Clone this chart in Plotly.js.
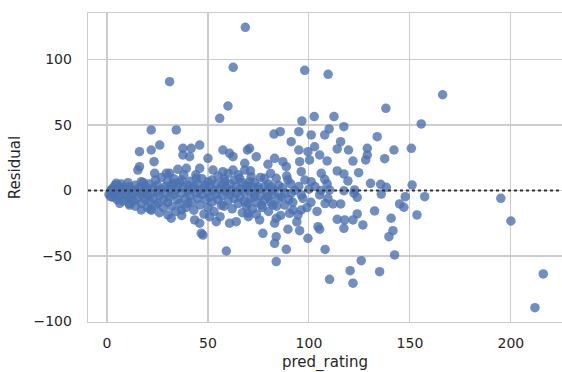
<!DOCTYPE html>
<html>
<head>
<meta charset="utf-8">
<script src="https://cdn.plot.ly/plotly-3.0.1.min.js"></script>
<style>html,body{margin:0;padding:0;background:#fff;}#chart{width:562px;height:372px;}</style>
</head>
<body>
<div id="chart"></div>
<script>
// pred_rating (x) and Residual (y)
const predRating = [
  68.5,31.0,62.5,97.9,109.5,59.9,55.8,96.5,102.6,166.2,138.1,
  112.4,110,117.3,155.6,133.8,115.7,114,119.6,128.9,142.1,150.7,128.9,128.1,121.8,137.5,109,114,117.3,124.6,119.3,130.5,135.5,138.3,151.1,122.6,
  117.3,123.9,122.3,135.8,147.7,157.3,111.9,115.7,144.9,147,132.5,153.5,123.9,114,117.7,121.8,140.7,126.7,117.3,141.6,139.6,142.4,125.9,120.4,135,110.2,121.8,108,
  195,200,216,211.9,
  82.7,85.8,95,101.1,107.8,91.2,102.8,95,99.5,105.3,70.6,73.9,83,87.1,79.7,88.8,95.4,96.2,100.3,71.4,78,83.8,89.6,101.1,106.1,107.8,74.8,81.3,110.2,69.8,
  73.1,79.7,86.3,91.2,96.2,105.3,109.4,69.8,76.4,82.2,88,92.1,96.2,90.4,94.6,75.6,83.8,83,104.5,105.3,89.6,95.4,77.2,83.8,99.5,83,88.8,83.8,
  34.3,37.6,41.7,45.9,37.6,40.9,50,57.4,60.7,62.4,69.5,35.1,39.3,45.9,52.5,57.4,62.4,68.2,68.2,31,36.8,44.2,50,58.3,65.7,70.6,32.7,
  21.9,16.1,21.9,26.1,23.3,15.3,16.1,23.6,29.4,4.6,10.4,17,2.1,
  1.8,6.3,11.2,17,21.6,25.2,30.2,31.8,
  36.8,43.4,45.9,46.7,47.5,54.1,60.7,64,69.8,59.1,56.6,50.8,40.1,
  1,2,3,3,4,5,5,6,6,7,8,8,9,10,10,4,7,
  11,11,12,12,13,13,14,14,15,15,16,17,17,18,18,19,19,20,20,20,
  21,21,22,22,23,23,24,24,25,25,26,26,27,27,28,28,29,29,30,30,
  31,31,32,32,33,33,34,34,35,35,36,36,37,37,38,38,39,39,40,40,
  41,41,42,42,43,43,44,44,45,45,46,46,47,47,48,48,49,49,50,50,
  51,51,52,52,53,53,54,54,55,55,56,56,57,57,58,58,59,59,60,60,
  61,61,62,62,63,63,64,64,65,65,66,66,67,67,68,68,69,69,70,70,
  71,71,72,72,73,73,74,74,75,76,76,77,78,78,79,80,80,
  81,81,82,83,84,85,85,86,87,88,89,90,
  91,92,93,94,95,97,98,99,100,
  101,103,104,106,108,109
];
const residual = [
  124.6,83.1,94.0,91.7,88.7,64.5,55.1,53.1,56.4,73.1,62.7,
  56.4,47,48.7,50.8,41.1,37.3,31.7,30.9,32.2,30.9,32.2,27.1,23.3,22.5,24.3,22.6,14.9,12.6,13.6,7.3,5.5,4.7,2.4,4.2,0.4,
  -0.2,-5.2,-2.1,-2.7,-4.7,-4.7,-10.3,-10.3,-10.3,-12.8,-15.6,-18.7,-17.9,-22,-22.5,-22.5,-21.2,-26.3,-28.9,-30.7,-35.3,-49.2,-53.6,-61.2,-62,-67.8,-70.8,-45,
  -6,-23.3,-63.7,-89.5,
  43.1,44.9,44.9,42.4,42.4,37.3,33.4,30.9,29.6,27.1,32.2,25.8,24.6,22,20,18.2,22,14.4,23.3,10.5,9.3,9.3,8,6.7,13.1,8.5,2.9,2.9,0.4,2.9,
  -4.7,-4.7,-4.7,-2.1,-3.4,-3.4,-6,-9.8,-11.1,-11.1,-11.1,-14.9,-14.9,-17.4,-18.7,-22.5,-21.2,-25,-27.6,-29.6,-29.6,-30.7,-32.7,-35.3,-36.5,-40.3,-44.9,-54.3,
  46.2,32.2,32.2,34.7,27.1,25.8,24.6,30.9,28.4,25.8,30.9,16.2,16.9,16.9,15.6,14.4,15.6,20.8,15.6,13.1,8,9.3,6.7,6.7,9.3,6.7,5.5,
  46.2,29.6,30.9,34.7,22,15.6,18.2,13.1,13.1,5.5,6,6.7,0.4,
  -4.7,-9.8,-11.1,-14.9,-14.4,-9.8,-18.7,-21.2,
  -14.9,-22.5,-25,-32.7,-34,-23.8,-25,-23.8,-17.4,-46.2,-11.1,-20,-9.8,
  -3,0,2,-5,-2,1,-7,3,-4,-1,-8,2,-3,0,-6,4,5,
  -10,3,-5,1,-2,-8,4,-12,0,-6,2,-3,-10,6,-1,-7,3,-13,0,-4,
  -8,5,-2,-15,2,-6,8,-11,-1,4,-4,-17,1,10,-7,-13,3,-2,-9,7,
  -5,1,-12,4,-3,9,-16,0,-7,3,-10,6,-2,-19,2,12,-6,-13,0,4,
  -4,7,-9,1,-15,3,-2,12,-6,5,-11,0,-3,9,-18,2,-7,4,-1,-13,
  3,-5,-9,8,0,-16,5,-3,-7,11,1,-20,-4,4,-12,9,-1,2,-8,13,
  -3,5,-14,0,8,-6,-2,3,-10,12,-5,1,-17,6,-1,-8,4,-12,0,-20,
  -6,15,2,-14,-2,6,-9,-18,1,-4,10,-13,3,-7,-1,-16,5,
  -9,13,-3,0,-12,4,-6,-19,2,-2,11,-7,
  5,-9,0,-24,3,-6,8,-13,1,
  -9,3,-16,0,-10,5
];
const xTicks = [0, 50, 100, 150, 200];
const yTicks = [-100, -50, 0, 50, 100];

const trace = {
  type: 'scatter', mode: 'markers',
  x: predRating, y: residual,
  marker: {size: 9.5, color: 'rgba(76,114,176,0.8)', line: {width: 0}},
  hoverinfo: 'skip'
};
const layout = {
  width: 562, height: 372,
  margin: {l: 88, r: 0, t: 13, b: 50},
  paper_bgcolor: '#ffffff', plot_bgcolor: '#ffffff',
  font: {family: 'DejaVu Sans', size: 14, color: '#262626'},
  showlegend: false,
  xaxis: {
    range: [-9.4, 225.3], tickvals: xTicks, ticks: '', ticklabelstandoff: 8,
    showgrid: true, gridcolor: '#cccccc', gridwidth: 1.1, zeroline: false,
    showline: true, mirror: true, linecolor: '#cccccc', linewidth: 1.3,
    title: {text: 'pred_rating', standoff: 7, font: {size: 15}}
  },
  yaxis: {
    range: [-100.4, 135.5], tickvals: yTicks, ticks: '', ticklabelstandoff: 12,
    showgrid: true, gridcolor: '#cccccc', gridwidth: 1.1, zeroline: false,
    showline: true, mirror: true, linecolor: '#cccccc', linewidth: 1.3,
    title: {text: 'Residual', standoff: 9, font: {size: 15}}
  },
  shapes: [{type: 'line', xref: 'paper', x0: 0, x1: 1, yref: 'y', y0: 0, y1: 0,
            layer: 'above', line: {color: '#333333', width: 2, dash: 'dot'}}]
};
Plotly.newPlot('chart', [trace], layout, {displayModeBar: false, staticPlot: true});
</script>
</body>
</html>
